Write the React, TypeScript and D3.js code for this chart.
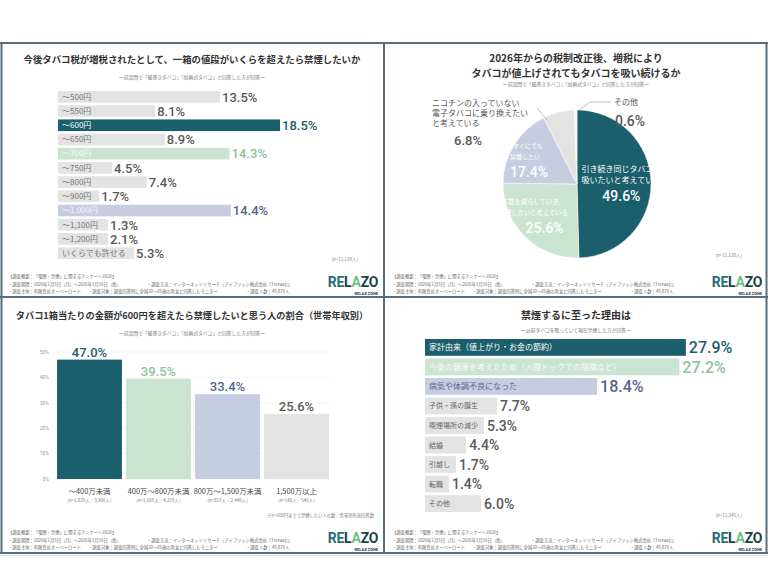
import * as d3 from "d3"

// ---- data ----
const priceCats = ["〜500円", "〜550円", "〜600円", "〜650円", "〜700円", "〜750円", "〜800円", "〜900円", "〜1,000円", "〜1,100円", "〜1,200円", "いくらでも許せる"]
const priceVals = [13.5, 8.1, 18.5, 8.9, 14.3, 4.5, 7.4, 1.7, 14.4, 1.3, 2.1, 5.3]

const pieVals = [49.6, 25.6, 17.4, 6.8, 0.6]
const pieLines = [
  ["引き続き同じタバコを", "吸いたいと考えている"],
  ["少しずつ本数を減らしていき、", "いずれは禁煙したいと考えている"],
  ["今すぐにでも", "禁煙したい"],
  ["ニコチンの入っていない", "電子タバコに乗り換えたい", "と考えている"],
  ["その他"],
]

const incomeCats = ["〜400万未満", "400万〜800万未満", "800万〜1,500万未満", "1,500万以上"]
const incomeVals = [47.0, 39.5, 33.4, 25.6]
const incomeN = ["(n=1,835人／3,906人)", "(n=1,665人／4,219人)", "(n=817人／2,446人)", "(n=140人／546人)"]
const incomeTicks = [0, 10, 20, 30, 40, 50]

const reasonCats = ["家計由来（値上がり・お金の節約）", "今後の健康を考えたため（人間ドックでの指摘など）", "病気や体調不良になった", "子供・孫の誕生", "喫煙場所の減少", "結婚", "引越し", "転職", "その他"]
const reasonVals = [27.9, 27.2, 18.4, 7.7, 5.3, 4.4, 1.7, 1.4, 6.0]

// ---- style ----
const JP = '"Noto Sans CJK JP", "Noto Sans", sans-serif'
const NUM = 'Roboto, "DejaVu Sans", sans-serif'
const TEAL = "#1b5e6c"
const GREEN = "#cbe4d1"
const GREEN_TXT = "#8dc19d"
const BLUE = "#c6cde1"
const BLUE_TXT = "#55668e"
const GRAY = "#e3e3e3"
const GRAY_TXT = "#595959"
const FRAME = "#55707a"

const textW = (s: string, fs: number) => {
  let w = 0
  for (const ch of s) w += ch.charCodeAt(0) < 0x2000 ? fs * 0.55 : fs
  return w
}

const Footer = ({ x0, bottom }: { x0: number; bottom: number }) => {
  const fs = 4.3
  const fill = "#666"
  return (
    <g fontSize={fs} fill={fill}>
      <text x={x0 + 6} y={bottom - 19}>【調査概要：「喫煙・禁煙」に関するアンケート2026】</text>
      <text x={x0 + 6} y={bottom - 11.5}>・調査期間：2026年1月5日（月）〜2026年1月16日（金）</text>
      <text x={x0 + 145} y={bottom - 11.5}>・調査方法：インターネットリサーチ（アイブリッジ株式会社「Freeasy」）</text>
      <text x={x0 + 6} y={bottom - 4}>・調査主体：有限会社オーバーロード</text>
      <text x={x0 + 86} y={bottom - 4}>・調査対象：調査回答時に全国20〜65歳の男女と回答したモニター</text>
      <text x={x0 + 244} y={bottom - 4}>・調査人数：49,879人</text>
      <text x={x0 + 376} y={bottom - 10} textAnchor="end" fontFamily={NUM} fontSize={14} fontWeight={700} letterSpacing={-0.3}>
        <tspan fill="#2a6f78">RE</tspan>
        <tspan fill="#1d3f4a">L</tspan>
        <tspan fill="#6cbf8c">A</tspan>
        <tspan fill="#1d3f4a">ZO</tspan>
      </text>
      <text x={x0 + 376} y={bottom - 2.5} textAnchor="end" fontFamily={NUM} fontSize={4} fontWeight={700} fill="#1d3f4a">RELAX ZONE</text>
    </g>
  )
}

const Title = ({ x, y, lines, sub, subY, fs }: { x: number; y: number; lines: string[]; sub: string; subY: number; fs: number }) => (
  <g textAnchor="middle">
    {lines.map((l, i) => (
      <text key={i} x={x} y={y + i * 15} fontSize={fs} fontWeight={700} fill="#333">{l}</text>
    ))}
    <text x={x} y={subY} fontSize={4.8} fill="#777">{sub}</text>
  </g>
)

const PricePanel = () => {
  const x0 = 58
  const x = d3.scaleLinear().domain([0, 20]).range([0, 240])
  const y = d3.scaleBand().domain(priceCats).range([91, 259]).paddingInner(0.18)
  const accent: Record<string, string[]> = {
    "〜600円": [TEAL, "#ffffff", TEAL],
    "〜700円": [GREEN, "#f6fbf7", GREEN_TXT],
    "〜1,000円": [BLUE, "#f3f5fa", BLUE_TXT],
  }
  return (
    <g>
      <Title x={192} y={63} lines={["今後タバコ税が増税されたとして、一箱の値段がいくらを超えたら禁煙したいか"]} sub="ー前設問で「紙巻きタバコ」「加熱式タバコ」と回答した方が回答ー" subY={79} fs={9.4} />
      {priceCats.map((c, i) => {
        const [fill, lab, val] = accent[c] || [GRAY, "#777", GRAY_TXT]
        const w = Math.max(x(priceVals[i]), textW(c, 8) + 12)
        const yc = (y(c) as number) + y.bandwidth() / 2
        return (
          <g key={c}>
            <rect x={x0} y={y(c)} width={w} height={y.bandwidth()} fill={fill} />
            <text x={x0 + 4} y={yc + 2.8} fontSize={8} fill={lab}>{c}</text>
            <text x={x0 + w + 2} y={yc + 4.8} fontSize={13} fontFamily={NUM} fontWeight={500} fill={val}>{priceVals[i].toFixed(1)}%</text>
          </g>
        )
      })}
      <text x={358} y={261} textAnchor="end" fontSize={4.5} fill="#777">(n=11,128人)</text>
      <Footer x0={2} bottom={297} />
    </g>
  )
}

const PiePanel = () => {
  const cx = 577
  const cy = 184
  const r = 74
  const arcs = d3.pie<number>().sort(null).value((d) => d)(pieVals)
  const arc = d3.arc<d3.PieArcDatum<number>>().innerRadius(0).outerRadius(r)
  const fills = [TEAL, GREEN, BLUE, GRAY, "#f3f3f3"]
  // label radius factor, nudge and line shift for the slices that carry text inside
  const inner = [1.2, 1.4, 1.4]
  const nudge = [[0, 0], [4, -6], [-4, 2]]
  const lineDx = [0, -24, -4]
  const lineFs = [8, 6.3, 6]
  return (
    <g>
      <Title x={576} y={62} lines={["2026年からの税制改正後、増税により", "タバコが値上げされてもタバコを吸い続けるか"]} sub="ー前設問で「紙巻きタバコ」「加熱式タバコ」と回答した方が回答ー" subY={86} fs={10} />
      <g transform={`translate(${cx},${cy})`}>
        {arcs.map((a, i) => (
          <path key={i} d={arc(a) || ""} fill={fills[i]} stroke="#fff" strokeWidth={0.5} />
        ))}
        {arcs.slice(0, 3).map((a, i) => {
          const [px, py] = d3.arc<d3.PieArcDatum<number>>().innerRadius(0).outerRadius(r * inner[i]).centroid(a)
          const lx = px + nudge[i][0]
          const ly = py + nudge[i][1]
          return (
            <g key={i} textAnchor="middle" fill="#fff">
              {pieLines[i].map((l, j) => (
                <text key={j} x={lx + lineDx[i]} y={ly - 11 + j * 11} fontSize={lineFs[i]}>{l}</text>
              ))}
              <text x={lx} y={ly + 18} fontSize={14} fontFamily={NUM} fontWeight={500}>{pieVals[i].toFixed(1)}%</text>
            </g>
          )
        })}
      </g>
      <g fill="#555" fontSize={8}>
        {pieLines[3].map((l, j) => (
          <text key={j} x={432} y={106 + j * 10}>{l}</text>
        ))}
        <text x={468} y={145} textAnchor="middle" fontSize={13} fontFamily={NUM} fontWeight={500} fill={GRAY_TXT}>{pieVals[3].toFixed(1)}%</text>
        <text x={614} y={105}>{pieLines[4][0]}</text>
        <text x={630} y={126} textAnchor="middle" fontSize={14} fontFamily={NUM} fontWeight={500} fill={GRAY_TXT}>{pieVals[4].toFixed(1)}%</text>
      </g>
      <polyline points="611,102 590,102 579,110" fill="none" stroke="#999" strokeWidth={0.6} />
      <polyline points="537,108 547,120" fill="none" stroke="#999" strokeWidth={0.6} />
      <text x={742} y={257} textAnchor="end" fontSize={4.5} fill="#777">(n=11,128人)</text>
      <Footer x0={386} bottom={297} />
    </g>
  )
}

const IncomePanel = () => {
  const x = d3.scaleBand().domain(incomeCats).range([55, 331]).paddingInner(0.06).paddingOuter(0.03)
  const y = d3.scaleLinear().domain([0, 50]).range([479, 352])
  const fills = [TEAL, GREEN, BLUE, GRAY]
  const vcol = [TEAL, GREEN_TXT, BLUE_TXT, GRAY_TXT]
  return (
    <g>
      <Title x={192} y={319} lines={["タバコ1箱当たりの金額が600円を超えたら禁煙したいと思う人の割合（世帯年収別）"]} sub="ー前設問で「紙巻きタバコ」「加熱式タバコ」と回答した方が回答ー" subY={335} fs={9.2} />
      {incomeTicks.map((t) => (
        <g key={t}>
          <line x1={55} x2={331} y1={y(t)} y2={y(t)} stroke="#eeeeee" strokeWidth={0.6} />
          <text x={49} y={y(t) + 1.8} textAnchor="end" fontSize={5} fill="#999" fontFamily={NUM}>{t}%</text>
        </g>
      ))}
      {incomeCats.map((c, i) => {
        const bx = x(c) as number
        const mid = bx + x.bandwidth() / 2
        return (
          <g key={c}>
            <rect x={bx} y={y(incomeVals[i])} width={x.bandwidth()} height={y(0) - y(incomeVals[i])} fill={fills[i]} />
            <text x={mid} y={y(incomeVals[i]) - 3} textAnchor="middle" fontSize={13} fontFamily={NUM} fontWeight={500} fill={vcol[i]}>{incomeVals[i].toFixed(1)}%</text>
            <text x={mid} y={494} textAnchor="middle" fontSize={7.4} fill="#444">{c}</text>
            <text x={mid} y={502} textAnchor="middle" fontSize={4.5} fill="#777">{incomeN[i]}</text>
          </g>
        )
      })}
      <text x={374} y={517} textAnchor="end" fontSize={4.3} fill="#777">※n=600円までで禁煙したい人の数／世帯別有効回答数</text>
      <Footer x0={2} bottom={553} />
    </g>
  )
}

const ReasonPanel = () => {
  const x0 = 425
  const x = d3.scaleLinear().domain([0, 30]).range([0, 280.5])
  const y = d3.scaleBand().domain(reasonCats).range([339, 512]).paddingInner(0.14)
  const style = [
    [TEAL, "#ffffff", TEAL],
    [GREEN, "#f6fbf7", GREEN_TXT],
    [BLUE, BLUE_TXT, BLUE_TXT],
  ]
  return (
    <g>
      <Title x={576} y={319} lines={["禁煙するに至った理由は"]} sub="ー以前タバコを吸っていて現在禁煙した方が回答ー" subY={332} fs={10} />
      {reasonCats.map((c, i) => {
        const [fill, lab, val] = style[i] || [GRAY, "#666", GRAY_TXT]
        const fs = i < 3 ? 8 : 7
        const w = Math.max(x(reasonVals[i]), textW(c, fs) + 10)
        const yc = (y(c) as number) + y.bandwidth() / 2
        return (
          <g key={c}>
            <rect x={x0} y={y(c)} width={w} height={y.bandwidth()} fill={fill} />
            <text x={x0 + 4} y={yc + fs * 0.36} fontSize={fs} fill={lab}>{c}</text>
            <text x={x0 + w + 3} y={yc + (i < 3 ? 6 : 5.2)} fontSize={i < 3 ? 16 : 14} fontFamily={NUM} fontWeight={500} fill={val}>{reasonVals[i].toFixed(1)}%</text>
          </g>
        )
      })}
      <text x={742} y={517} textAnchor="end" fontSize={4.5} fill="#777">(n=11,245人)</text>
      <Footer x0={386} bottom={553} />
    </g>
  )
}

const Frame = () => (
  <g fill="none" stroke={FRAME} strokeWidth={2}>
    <line x1={0} x2={768} y1={43} y2={43} />
    <line x1={0} x2={768} y1={297} y2={297} />
    <line x1={0} x2={768} y1={553} y2={553} />
    <line x1={1.5} x2={1.5} y1={43} y2={553} />
    <line x1={384} x2={384} y1={43} y2={553} />
    <line x1={766.5} x2={766.5} y1={43} y2={553} />
    <line x1={0} x2={768} y1={555.5} y2={555.5} stroke="#d3e4ea" strokeWidth={1.5} />
  </g>
)

export default function App() {
  return (
    <svg width={768} height={576} viewBox="0 0 768 576" fontFamily={JP} style={{ position: "absolute", left: 0, top: 0, background: "#fff" }}>
      <rect width={768} height={576} fill="#fff" />
      <PricePanel />
      <PiePanel />
      <IncomePanel />
      <ReasonPanel />
      <Frame />
    </svg>
  )
}
